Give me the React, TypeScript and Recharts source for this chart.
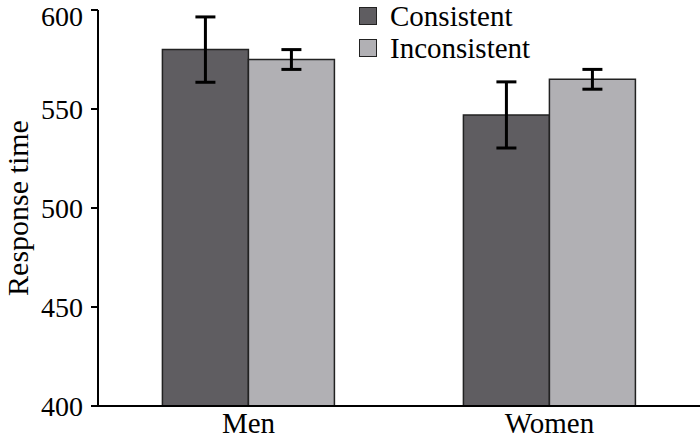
import React from "react";
import { BarChart, Bar, XAxis, YAxis, ErrorBar } from "recharts";

const groups = ["Men", "Women"];
const consistent = [580, 547];
const consistentErr = [16.5, 16.7];
const inconsistent = [575, 565];
const inconsistentErr = [5, 5];
const yTicks = [400, 450, 500, 550, 600];

const data = groups.map((g, i) => ({
  name: g,
  consistent: consistent[i],
  consistentErr: consistentErr[i],
  inconsistent: inconsistent[i],
  inconsistentErr: inconsistentErr[i],
}));

const FONT = "'Times New Roman', 'Liberation Serif', 'DejaVu Serif', serif";
const DARK = "#5f5d61";
const LIGHT = "#b1b0b4";

const legendItems = [
  { label: "Consistent", color: DARK },
  { label: "Inconsistent", color: LIGHT },
];

// legend drawn outside the chart so it doesn't eat plot space
function LegendBox() {
  return (
    <div
      style={{
        position: "absolute",
        left: 359,
        top: 0,
        fontFamily: FONT,
        fontSize: 29,
        color: "#000",
        lineHeight: "32px",
      }}
    >
      {legendItems.map((it) => (
        <div key={it.label} style={{ display: "flex", alignItems: "center" }}>
          <span
            style={{
              display: "inline-block",
              width: 16,
              height: 16,
              background: it.color,
              border: "1.5px solid #222",
              marginRight: 13,
            }}
          />
          {it.label}
        </div>
      ))}
    </div>
  );
}

export default function App() {
  return (
    <div style={{ position: "absolute", left: 0, top: 0, width: 700, height: 439, background: "#fff", fontFamily: FONT }}>
      <BarChart
        width={700}
        height={439}
        data={data}
        margin={{ top: 10, right: 0, left: 0, bottom: 0 }}
        barCategoryGap="21.4%"
        barGap={0}
        style={{ fontFamily: FONT }}
      >
        <XAxis
          dataKey="name"
          height={33}
          axisLine={{ stroke: "#000", strokeWidth: 2 }}
          tickLine={false}
          tick={{ fill: "#000", fontSize: 29, fontFamily: FONT }}
          tickMargin={0}
        />
        <YAxis
          width={98}
          domain={[400, 600]}
          ticks={yTicks}
          allowDataOverflow
          axisLine={{ stroke: "#000", strokeWidth: 2 }}
          tickLine={{ stroke: "#000", strokeWidth: 2 }}
          tickSize={7}
          tickMargin={8}
          tick={{ fill: "#000", fontSize: 28, fontFamily: FONT }}
          label={{
            value: "Response time",
            angle: -90,
            position: "insideLeft",
            offset: 17,
            style: { textAnchor: "middle", fontSize: 30, fontFamily: FONT, fill: "#000" },
          }}
        />
        <Bar
          dataKey="consistent"
          fill={DARK}
          stroke="#222"
          strokeWidth={1.5}
          isAnimationActive={false}
        >
          <ErrorBar dataKey="consistentErr" width={10} stroke="#000" strokeWidth={3} />
        </Bar>
        <Bar
          dataKey="inconsistent"
          fill={LIGHT}
          stroke="#222"
          strokeWidth={1.5}
          isAnimationActive={false}
        >
          <ErrorBar dataKey="inconsistentErr" width={10} stroke="#000" strokeWidth={3} />
        </Bar>
      </BarChart>
      <LegendBox />
    </div>
  );
}
